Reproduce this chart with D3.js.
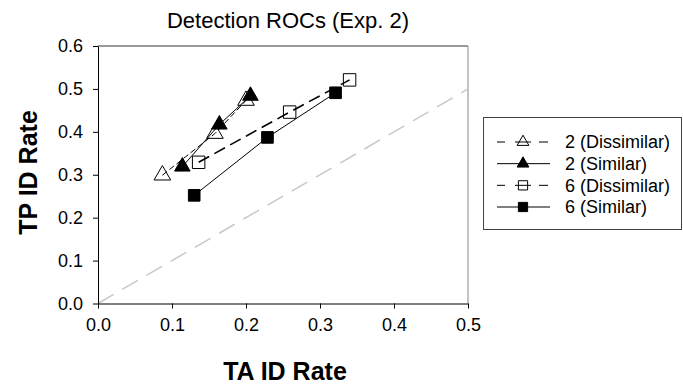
<!DOCTYPE html>
<html>
<head>
<meta charset="utf-8">
<script src="https://cdn.jsdelivr.net/npm/d3@7"></script>
<style>
  body { margin: 0; background: #fff; }
  text { font-family: Arial, "Liberation Sans", sans-serif; }
</style>
</head>
<body>
<script>
// series names as in the legend
var seriesNames = ["2 (Dissimilar)", "2 (Similar)", "6 (Dissimilar)", "6 (Similar)"];

// TA ID rate (x) and TP ID rate (y)
var dis2X = [0.087, 0.158, 0.200];
var dis2Y = [0.299, 0.396, 0.473];
var sim2X = [0.114, 0.164, 0.206];
var sim2Y = [0.319, 0.417, 0.484];
var dis6X = [0.136, 0.259, 0.340];
var dis6Y = [0.329, 0.446, 0.521];
var sim6X = [0.130, 0.229, 0.321];
var sim6Y = [0.252, 0.387, 0.491];

var xTicks = [0, 0.1, 0.2, 0.3, 0.4, 0.5];
var yTicks = [0, 0.1, 0.2, 0.3, 0.4, 0.5, 0.6];
var chanceLine = [0, 0.5];

drawChart();

function drawChart(){
	var width = 683, height = 385;
	var plotL = 98, plotR = 468, plotT = 46, plotB = 303.5;

	var svg = d3.select("body").append("svg")
		.attr("width", width)
		.attr("height", height);

	var x = d3.scaleLinear().domain([0, 0.5]).range([plotL, plotR]);
	var y = d3.scaleLinear().domain([0, 0.6]).range([plotB, plotT]);

	// styles per series
	var styles = [
		{ shape: d3.symbolTriangle, fill: "none", dash: "6,3", width: 1, size: 120, legSize: 60 },
		{ shape: d3.symbolTriangle, fill: "#000", dash: null, width: 1, size: 105, legSize: 60 },
		{ shape: d3.symbolSquare, fill: "none", dash: "12,6", width: 1.6, size: 155, legSize: 85 },
		{ shape: d3.symbolSquare, fill: "#000", dash: null, width: 1, size: 135, legSize: 85 }
	];

	var series = [
		d3.zip(dis2X, dis2Y),
		d3.zip(sim2X, sim2Y),
		d3.zip(dis6X, dis6Y),
		d3.zip(sim6X, sim6Y)
	];

	// frame top / right
	svg.append("line")
		.attr("x1", plotL).attr("x2", plotR).attr("y1", plotT).attr("y2", plotT)
		.attr("stroke", "#333").attr("stroke-width", 1);
	svg.append("line")
		.attr("x1", plotR).attr("x2", plotR).attr("y1", plotT).attr("y2", plotB)
		.attr("stroke", "#888").attr("stroke-width", 1);

	// chance diagonal
	svg.append("line")
		.attr("x1", x(chanceLine[0])).attr("y1", y(chanceLine[0]))
		.attr("x2", x(chanceLine[1])).attr("y2", y(chanceLine[1]))
		.attr("stroke", "#c8c8c8")
		.attr("stroke-width", 1.5)
		.attr("stroke-dasharray", "18,10");

	// axes
	var xAxis = d3.axisBottom(x).tickValues(xTicks).tickFormat(d3.format(".1f"))
		.tickSizeInner(5).tickSizeOuter(0).tickPadding(10);
	var yAxis = d3.axisLeft(y).tickValues(yTicks).tickFormat(d3.format(".1f"))
		.tickSizeInner(5).tickSizeOuter(0).tickPadding(10);

	var gx = svg.append("g").attr("transform", "translate(0," + plotB + ")").call(xAxis);
	var gy = svg.append("g").attr("transform", "translate(" + plotL + ",0)").call(yAxis);
	[gx, gy].forEach(function(g){
		g.selectAll("text").style("font-size", "18px").attr("fill", "#000")
			.style("font-family", "Arial, 'Liberation Sans', sans-serif");
		g.selectAll("line, path").attr("stroke", "#000");
	});

	var line = d3.line()
		.x(function(d){ return x(d[0]); })
		.y(function(d){ return y(d[1]); });

	series.forEach(function(pts, i){
		var st = styles[i];
		svg.append("path")
			.attr("d", line(pts))
			.attr("fill", "none")
			.attr("stroke", "#000")
			.attr("stroke-width", st.width)
			.attr("stroke-dasharray", st.dash);
		svg.selectAll(".m" + i)
			.data(pts)
			.enter()
			.append("path")
			.attr("class", "m" + i)
			.attr("transform", function(d){ return "translate(" + x(d[0]) + "," + y(d[1]) + ")"; })
			.attr("d", d3.symbol().type(st.shape).size(st.size))
			.attr("fill", st.fill)
			.attr("stroke", "#000")
			.attr("stroke-width", 1);
	});

	// title and axis labels
	svg.append("text")
		.attr("x", 288).attr("y", 28)
		.attr("text-anchor", "middle")
		.style("font-size", "22px")
		.text("Detection ROCs (Exp. 2)");

	svg.append("text")
		.attr("x", 285).attr("y", 380)
		.attr("text-anchor", "middle")
		.style("font-size", "25px")
		.style("font-weight", "bold")
		.text("TA ID Rate");

	svg.append("text")
		.attr("transform", "translate(36.5,172.5) rotate(-90)")
		.attr("text-anchor", "middle")
		.style("font-size", "25px")
		.style("font-weight", "bold")
		.text("TP ID Rate");

	// legend
	var legend = svg.append("g");
	legend.append("rect")
		.attr("x", 483.5).attr("y", 117.5)
		.attr("width", 198).attr("height", 112)
		.attr("fill", "#fff")
		.attr("stroke", "#444")
		.attr("stroke-width", 1);

	var rowY = d3.scalePoint().domain(seriesNames).range([142, 207]);

	seriesNames.forEach(function(name, i){
		var st = styles[i];
		var ry = rowY(name);
		var g = legend.append("g");
		if (st.dash) {
			[[497, 505], [515, 531], [539, 548]].forEach(function(seg){
				g.append("line").attr("x1", seg[0]).attr("x2", seg[1]).attr("y1", ry).attr("y2", ry)
					.attr("stroke", "#000").attr("stroke-width", 1);
			});
		} else {
			g.append("line").attr("x1", 497).attr("x2", 550).attr("y1", ry).attr("y2", ry)
				.attr("stroke", "#000").attr("stroke-width", 1);
		}
		g.append("path")
			.attr("transform", "translate(523," + ry + ")")
			.attr("d", d3.symbol().type(st.shape).size(st.legSize))
			.attr("fill", st.fill)
			.attr("stroke", "#000")
			.attr("stroke-width", 1);
		g.append("text")
			.attr("x", 565).attr("y", ry)
			.attr("dy", "0.35em")
			.style("font-size", "18px")
			.text(name);
	});
}
</script>
</body>
</html>
